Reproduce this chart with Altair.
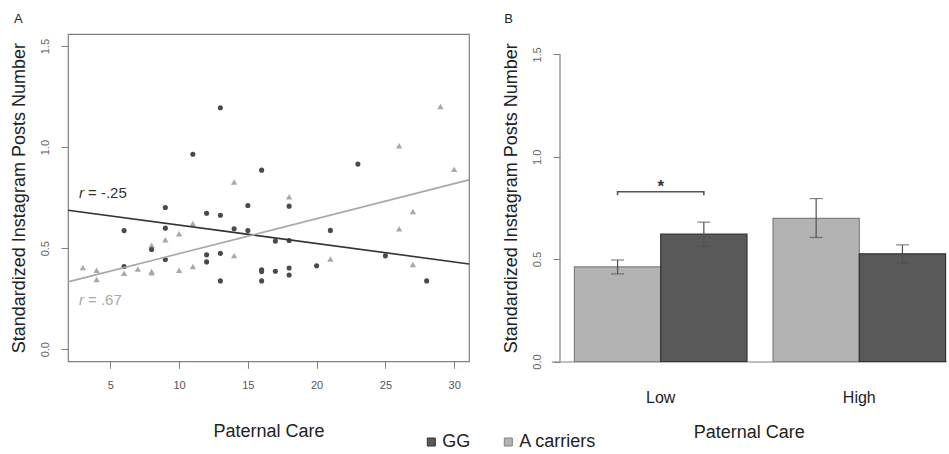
import altair as alt
import pandas as pd

# ---------------- Panel A data ----------------
gg_x = [6, 6, 8, 9, 9, 9, 11, 12, 12, 12, 13, 13, 13, 13, 14, 15, 15, 16, 16, 16, 16,
        17, 17, 18, 18, 18, 18, 20, 21, 23, 25, 28]
gg_y = [0.587, 0.409, 0.493, 0.701, 0.599, 0.444, 0.965, 0.673, 0.467, 0.432, 1.195,
        0.663, 0.474, 0.338, 0.596, 0.587, 0.711, 0.886, 0.393, 0.384, 0.338, 0.535,
        0.386, 0.708, 0.538, 0.402, 0.367, 0.413, 0.588, 0.916, 0.462, 0.338]
a_x = [3, 4, 4, 6, 7, 8, 8, 8, 9, 10, 10, 11, 11, 14, 14, 18, 21, 26, 26, 27, 27, 29, 30]
a_y = [0.404, 0.391, 0.345, 0.376, 0.397, 0.384, 0.378, 0.514, 0.542, 0.571, 0.391,
       0.622, 0.409, 0.828, 0.463, 0.754, 0.446, 1.007, 0.596, 0.681, 0.419, 1.201, 0.890]

# fitted lines (end points)
fit_x = [1.92, 31.08]
gg_fit = [0.688, 0.422]
a_fit = [0.333, 0.838]

# correlation annotations
ann_x = [2.72, 2.72]
ann_y = [0.772, 0.243]
ann_txt = ["= -.25", "= .67"]
ann_grp = ["GG", "A carriers"]

# ---------------- Panel B data ----------------
groups = ["Low", "Low", "High", "High"]
genos = ["A carriers", "GG", "A carriers", "GG"]
means = [0.462, 0.623, 0.699, 0.526]
lower = [0.428, 0.563, 0.606, 0.480]
upper = [0.496, 0.681, 0.796, 0.570]

bracket_geno = ["A carriers", "A carriers", "GG", "GG"]
bracket_y = [0.812, 0.829, 0.829, 0.812]
star_y = [0.868]

FONT = "Liberation Sans"
Y_TITLE = "Standardized Instagram Posts Number"

# ---------------- Panel A ----------------
pts_gg = pd.DataFrame({"x": gg_x, "y": gg_y})
pts_a = pd.DataFrame({"x": a_x, "y": a_y})
fit = pd.DataFrame({"x": fit_x * 2, "y": gg_fit + a_fit,
                    "g": ["GG", "GG", "A carriers", "A carriers"]})
ann = pd.DataFrame({"x": ann_x, "y": ann_y, "t": ann_txt, "g": ann_grp})

xsA = alt.Scale(domain=[1.92, 31.08], nice=False, zero=False)
ysA = alt.Scale(domain=[-0.06, 1.56], nice=False, zero=False)

xA = alt.X("x:Q", scale=xsA, axis=alt.Axis(
    values=[5, 10, 15, 20, 25, 30], title="Paternal Care", domain=False, grid=False,
    tickSize=7, tickColor="#808080", labelPadding=11, labelFontSize=11,
    labelColor="#555555", titleFontSize=18, titleFontWeight="normal",
    titleColor="#222222", titlePadding=32))
yA = alt.Y("y:Q", scale=ysA, axis=alt.Axis(
    values=[0, 0.5, 1.0, 1.5], format=".1f", title=Y_TITLE, domain=False, grid=False,
    tickSize=7, tickColor="#808080", labelAngle=270, labelAlign="center",
    labelBaseline="middle", labelPadding=15.5, labelFontSize=11, labelColor="#666666",
    titleFontSize=18, titleFontWeight="normal", titleColor="#222222",
    titleBaseline="middle", titlePadding=20))

line_color = alt.Color("g:N", scale=alt.Scale(domain=["GG", "A carriers"],
                                              range=["#333333", "#a8a8a8"]), legend=None)

tri = alt.Chart(pts_a).mark_point(shape="triangle-up", filled=True, size=40,
                                  color="#a9a9a9", opacity=1).encode(x=xA, y=yA)
circ = alt.Chart(pts_gg).mark_circle(size=26, color="#4a4a4a", opacity=1).encode(
    x=alt.X("x:Q", scale=xsA), y=alt.Y("y:Q", scale=ysA))
lines = alt.Chart(fit).mark_line(strokeWidth=1.6).encode(
    x=alt.X("x:Q", scale=xsA), y=alt.Y("y:Q", scale=ysA), color=line_color,
    detail="g:N")
r_txt = alt.Chart(ann).mark_text(text="r", fontStyle="italic", fontSize=15,
                                 align="left", baseline="middle").encode(
    x=alt.X("x:Q", scale=xsA), y=alt.Y("y:Q", scale=ysA), color=line_color)
rest_txt = alt.Chart(ann).mark_text(fontSize=15, align="left", baseline="middle",
                                    dx=9).encode(
    x=alt.X("x:Q", scale=xsA), y=alt.Y("y:Q", scale=ysA), text="t:N", color=line_color)

panelA = alt.layer(tri, circ, lines, r_txt, rest_txt).properties(
    width=401, height=327.3,
    title=alt.TitleParams("A", anchor="start", frame="group", dx=-54, fontSize=13,
                          fontWeight="normal", baseline="bottom", offset=-5.3,
                          color="#222222"),
    view=alt.ViewBackground(stroke="#808080", strokeWidth=1.2))

# ---------------- Panel B ----------------
bars = pd.DataFrame({"grp": groups, "g": genos, "m": means, "lo": lower, "hi": upper})
brk = pd.DataFrame({"grp": ["Low"] * 4, "g": bracket_geno, "y": bracket_y,
                    "o": [0, 1, 2, 3]})
star = pd.DataFrame({"grp": ["Low"], "y": star_y})
axis_line = pd.DataFrame({"y0": [0.0], "y1": [1.5]})

xsB = alt.Scale(domain=["Low", "High"], paddingInner=0.131, paddingOuter=0.06, align=0.97)
offB = alt.XOffset("g:N", scale=alt.Scale(domain=["A carriers", "GG"],
                                          paddingInner=0, paddingOuter=0))
ysB = alt.Scale(domain=[0, 1.6], nice=False, zero=False)

xB = alt.X("grp:N", scale=xsB, sort=["Low", "High"], axis=alt.Axis(
    title="Paternal Care", labelAngle=0, ticks=False, tickSize=0, domain=True,
    domainColor="#808080", domainWidth=1.2, labelPadding=28, labelFontSize=16,
    labelColor="#222222", titleFontSize=18, titleFontWeight="normal",
    titleColor="#222222", titlePadding=18))
yB = alt.Y("m:Q", scale=ysB, axis=alt.Axis(
    values=[0, 0.5, 1.0, 1.5], format=".1f", title=Y_TITLE, domain=False, grid=False,
    offset=-8.7, tickSize=7, tickColor="#808080", labelAngle=270, labelAlign="center",
    labelBaseline="middle", labelPadding=15.5, labelFontSize=11, labelColor="#666666",
    titleFontSize=18, titleFontWeight="normal", titleColor="#222222",
    titleBaseline="middle", titlePadding=20))

bar_layer = alt.Chart(bars).mark_bar(strokeWidth=1.2).encode(
    x=xB, xOffset=offB, y=yB,
    color=alt.Color("g:N", scale=alt.Scale(domain=["GG", "A carriers"],
                                           range=["#595959", "#b3b3b3"]),
                    legend=alt.Legend(orient="none", legendX=-129, legendY=399,
                                      direction="horizontal", title=None,
                                      symbolType="square", symbolSize=64,
                                      symbolStrokeColor="#444444",
                                      symbolStrokeWidth=1, labelFontSize=18,
                                      labelColor="#222222", labelOffset=2,
                                      columnPadding=28, padding=0)),
    stroke=alt.Stroke("g:N", scale=alt.Scale(domain=["GG", "A carriers"],
                                             range=["#333333", "#808080"]),
                      legend=None))
err = alt.Chart(bars).mark_rule(color="#505050", strokeWidth=1.2).encode(
    x=alt.X("grp:N", scale=xsB, sort=["Low", "High"]), xOffset=offB,
    y=alt.Y("lo:Q", scale=ysB), y2="hi:Q")
cap_lo = alt.Chart(bars).mark_tick(color="#505050", size=13, thickness=1.2).encode(
    x=alt.X("grp:N", scale=xsB, sort=["Low", "High"]), xOffset=offB,
    y=alt.Y("lo:Q", scale=ysB))
cap_hi = alt.Chart(bars).mark_tick(color="#505050", size=13, thickness=1.2).encode(
    x=alt.X("grp:N", scale=xsB, sort=["Low", "High"]), xOffset=offB,
    y=alt.Y("hi:Q", scale=ysB))
bracket = alt.Chart(brk).mark_line(color="#555555", strokeWidth=1.6).encode(
    x=alt.X("grp:N", scale=xsB, sort=["Low", "High"]), xOffset=offB,
    y=alt.Y("y:Q", scale=ysB), order="o:Q")
star_txt = alt.Chart(star).mark_text(text="*", fontSize=17, fontWeight="bold",
                                     color="#333333", baseline="middle", dy=3).encode(
    x=alt.X("grp:N", scale=xsB, sort=["Low", "High"]), y=alt.Y("y:Q", scale=ysB))
yline = alt.Chart(axis_line).mark_rule(color="#808080", strokeWidth=1.2).encode(
    x=alt.value(8.7), y=alt.Y("y0:Q", scale=ysB), y2="y1:Q")

panelB = alt.layer(bar_layer, err, cap_lo, cap_hi, bracket, star_txt, yline).properties(
    width=395, height=327.5,
    title=alt.TitleParams("B", anchor="start", frame="group", dx=-47, fontSize=13,
                          fontWeight="normal", baseline="bottom", offset=-5.3,
                          color="#222222"))

chart = alt.hconcat(panelA, panelB, spacing=82.3, bounds="flush").resolve_scale(
    color="independent", stroke="independent", x="independent", y="independent"
).properties(
    padding={"left": 9, "top": 12, "right": 0, "bottom": 0}
).configure(font=FONT).configure_view(stroke="transparent")

chart.save("out.html", embed_options={"renderer": "svg", "actions": False})
